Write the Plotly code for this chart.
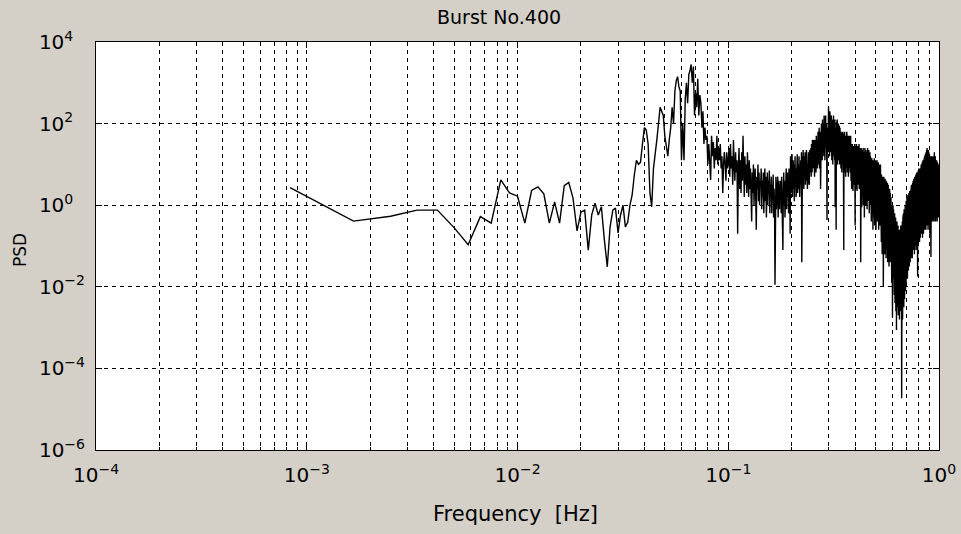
import plotly.graph_objects as go

# ---------------- data ----------------
# spectral bin width (Hz); bins k = 1..N
bin_width_hz = 1.0 / 1200.0

# PSD values, stored as log10(PSD), read bin by bin from the picture
psd_log_low = [0.43, -0.39, -0.27, -0.12, -0.12, -0.55, -0.97, -0.28, -0.44, 0.62,
               0.30, 0.22, -0.44, 0.36, 0.45, 0.28, -0.44, 0.08, -0.44, 0.48,
               0.56, 0.18, -0.63, -0.17, -0.12, -1.10, -0.24, 0.05, -0.24, -0.04,
               -0.85, -1.51, -0.53, -0.12, -0.07, -0.68, -0.24, 0.0, -0.53, -0.42,
               0.0, 0.25]
psd_log_peak = [0.74, 1.1, 1.0, 1.05, 1.5, 1.9, 1.84, 1.5, 0.3, -0.04,
                0.9, 1.2, 1.6, 2.0, 2.4, 2.3, 2.2, 1.7, 1.4, 1.2,
                1.6, 1.9, 2.4, 2.0, 2.8, 3.05, 3.15, 2.9, 2.8, 1.1,
                2.0, 1.1, 2.6, 3.0, 2.5, 3.2, 3.3, 3.45, 3.0, 3.4,
                2.2, 2.75, 2.4, 3.1, 2.2, 2.7, 2.5, 1.9, 2.3, 1.5,
                1.9, 1.6, 1.7, 1.0, 1.5, 0.8, 0.62, 1.7, 1.2, 1.55,
                0.9, 1.4, 1.1, 1.7, 1.0, 1.4, 1.1, 1.5, 0.9, 1.2,
                0.3, 1.0, 1.3, 1.0, 0.6, 1.3, 0.9, 1.1]
psd_log_mid = [1.4, 0.7, 1.5, 0.9, 1.2, 0.5, 1.6, 1.0, 0.6, 1.3, 0.8, 1.1, -0.7, 0.9, 1.4, 0.4,
               1.1, 0.3, 1.3, 0.6, 1.7, 0.9, 0.2, 1.2, 0.5, 1.0, 0.3, 1.3, 0.7, 0.2, 1.1, 0.4,
               0.9, 0.1, -0.4, 0.8, 0.3, 1.0, 0.0, 0.6, 0.9, 0.2, -0.6, 0.7, 0.4, 1.0, 0.1, 0.8, 0.0, 0.6,
               0.5, 0.9, -0.1, 0.6, 0.2, 0.8, -0.2, 0.4, 0.9, 0.1, 0.7, -0.3, 0.5, 0.8, 0.0, 0.6, 0.3, 0.85, -0.2, 0.5,
               0.3, 0.7, -0.2, 0.5, 0.1, 0.75, -0.3, 0.4, 0.0, -1.95, 0.3, 0.7, -0.1, 0.5, 0.2, 0.7, -0.3, 0.4, 0.6, -0.1, 0.5, 0.2,
               0.6, -0.2, 0.7, 0.1, 0.5, -1.1, 0.4, 0.8, 0.0, 0.6, -0.3, 0.7, 0.3, 0.9, -0.1, 0.5, 0.8, 0.2, 0.6, -0.2, 0.9, 0.4, 0.7, -0.7,
               1.2, 0.3, 0.9, 0.5, 1.25, 0.2, 0.8, 1.1, 0.4, 1.0, 0.1, 0.7, 1.2, 0.5, 0.9, 0.2, 1.1, 0.6, 1.25, 0.3, 0.8, 1.0, 0.4, 1.2, 0.6, 0.2, 1.0, 0.7,
               1.1, 0.5, 1.3, -1.4, 0.8, 1.2, 0.6, 1.35, 0.9, 0.4, 1.2, 0.7, 1.0, 1.3, 0.5, 1.1, 0.8, 1.35, 0.6, 1.0, 0.4, 1.25, 0.9, 1.3, 0.6, 1.1, 0.5, 1.35, 0.8, 1.2]
psd_log_hump = [0.9, 1.4, 0.7, 1.5, 1.1, 0.8, 1.6, 1.2, 1.4, 0.9, 1.6, 1.0, 1.5, 0.7, 1.3, 1.6, 1.0, 1.4, 0.8, 1.7,
                1.2, 1.5, 0.9, 1.6, 1.3, 1.8, 1.0, 1.5, 1.2, 1.9, 0.9, 1.6, 1.4, 1.8, 0.4,
                1.7, 1.2, 2.0, 1.5, 1.9, 1.1, 2.1, 1.6, 1.3, 2.0, 1.8, 1.2, 2.2, 1.5, 1.9, 1.1, 2.1, 1.7, 2.2, 1.4,
                1.8, 2.0, 1.2, -0.36, 1.9, 1.6, 2.2, 1.3, 2.0, 2.4, 1.5, 2.1, 1.8, 1.2, 2.3, 1.6, 2.1, 1.4,
                2.0, 1.3, 2.2, 1.7, 1.1, 2.1, 1.5, 1.9, 1.0, 2.0, 1.6, 2.2, 1.2, 1.8, 2.0, 1.4, 1.1, 2.1, -0.05, 1.7,
                1.9, 1.3, -0.6, 1.8, 2.0, 1.2, 1.6, 2.1, 1.0, 1.7, 1.9, 1.4, 2.0, 1.1, 1.8, 1.5, 1.95, 1.0, 1.6, 1.9, 1.2, 1.7,
                1.5, 0.9, 1.8, 1.2, 1.6, 0.8, 1.7, 1.3, 1.0, 1.8, 1.4, 0.7, 1.6, 1.2, -1.1, 1.7, 1.0, 1.5, 1.8, 0.8,
                1.4, 1.6, 1.1, 0.7, 1.7, 1.3, 1.5, 0.9, 1.8, 1.2, 1.6, 0.8, 1.4, 1.7, 1.0, 1.5, 0.7, 1.6, 1.3, 1.1,
                1.7, 0.9, 1.5, 1.2, 1.6, 0.8, 1.4, 1.7,
                1.2, 0.6, 1.5, 1.0, 0.4, 1.4, 1.1, 0.7, 1.5, 0.9, 1.3, 0.35, 1.2, 1.45, 0.8, 1.0, 0.5, 1.4, 1.2, 0.6,
                1.5, 0.9, -0.5, 1.3, 1.0, 0.4, 1.4, 1.1, 0.7, 1.5, 0.8, 1.2, 0.35, 1.3, 1.0, 1.45, 0.6, 1.1, 0.9, 1.4,
                0.5, 1.2, 0.8, 1.5, 0.4, 1.1, 1.3, 0.7, 1.0, 1.4, 0.5, 1.2, -1.4]
psd_log_fall = [1.0, 0.3, 1.4, 0.7, 1.1, -0.05, 1.3, 0.5, 0.9, 1.35, 0.2, 1.0, 0.6, 1.4, 0.0, 1.2, 0.8, 0.4, 1.3, 0.9,
                -0.3, 1.1, 0.6, 1.4, 0.3, 1.0, 1.2, 0.0, 0.8, 1.35, 0.5, 1.1, 0.2, 1.3, 0.7, 1.0, -0.1, 1.2, 0.6, 1.4,
                0.4, 0.9, 1.3, 0.1, 1.1, 0.7, 1.35, 0.3, 1.0, -0.2, 1.2, 0.8, 0.5, 1.3, 0.0, 1.0, 1.2, 0.4, 0.9,
                1.1, 0.2, 0.8, -0.4, 1.0, 0.5, 1.15, -0.2, 0.7, 0.9, 0.0, 1.1, 0.4, -0.6, 0.8, 1.0, 0.3, 1.1, -0.3, 0.6,
                0.9, 0.1, 1.15, 0.5, -0.5, 0.8, 1.0, 0.2, 0.7, -0.1, 1.1, 0.4, 0.9, -0.6, 0.6, 1.0, 0.3, -0.2, 0.9, 0.5,
                1.1, 0.0, 0.7, -0.4, 1.0, 0.4, 0.8, -0.1, 1.05, 0.2, 0.6, -0.6, 0.9, 0.3, 1.0, -0.3, 0.7, 0.1, 0.95, 0.4,
                -0.5, 0.8, 0.2, 1.0, -0.2, 0.6,
                0.7, -0.3, 0.4, -0.9, 0.75, 0.1, -0.6, 0.5, 0.2, -1.2, 0.6, -0.2, 0.3, -0.8, 0.7, 0.0, 0.4, -2.0, 0.5, -0.5,
                0.2, 0.7, -1.0, 0.3, -0.3, 0.6, 0.1, -1.2, 0.4, -0.6, 0.65, 0.0, -0.9, 0.3, 0.5, -0.4, 0.1, -1.3, 0.6, -0.2,
                0.2, -0.8, 0.5, 0.0, -1.1, 0.4, -0.5, 0.55, -0.1, -1.4, 0.3, 0.1, -0.7, 0.5, -0.3, -1.0, 0.2, 0.45, -0.6, -1.5,
                0.3, -0.2, 0.1, -1.2, 0.4, -0.8, 0.0, -1.4, 0.3, -0.5, 0.1, -1.0, 0.2, -1.3]
psd_log_notch = [0.2, -1.0, -0.4, -1.6, 0.1, -0.7, -1.9, -0.2, -1.1, 0.0, -1.5, -0.6, -2.75, -0.3, -1.2, -0.8, 0.0, -1.8, -0.5, -1.3,
                 -0.1, -2.0, -0.7, -1.0, -0.3, -1.6, -2.2, -0.5, -1.1, -0.2, -1.8, -0.9, -2.4, -0.4, -1.3, -0.7, -2.0, -0.3, -1.5, -2.6,
                 -0.6, -1.1, -1.9, -0.5, -3.06, -1.2, -0.8, -2.1, -0.4, -1.5, -2.5, -0.7, -1.0, -1.8, -0.6, -2.3, -1.3, -0.5, -2.0, -2.7,
                 -0.8, -1.4, -2.2, -0.6, -1.7, -2.5, -1.0, -0.7, -2.1, -2.8, -0.9, -1.5, -2.4, -0.6, -1.9, -2.6, -1.1, -0.8, -2.2, -1.6,
                 -0.5, -2.0,
                 -1.5, -0.8, -2.4, -1.2, -0.6, -2.0, -4.73, -1.0, -2.6, -0.7, -1.7, -2.2, -0.4, -1.3, -2.8, -0.9, -1.9, -0.3, -1.5, -2.4,
                 -0.6, -1.1, -2.0, -0.2, -1.6, -2.5, -0.8, -1.2, -0.1, -1.8, -1.0, -2.3, -0.5, -1.4, -2.0, -0.3, -1.1, -1.7, 0.0, -0.9,
                 -2.1, -0.6, -1.5, -0.2, -1.2, -1.9, 0.1, -0.8, -1.4, -0.4, -1.7, -0.1, -1.0, -1.6, 0.2, -0.7, -1.3, -0.3, -1.8, 0.0,
                 -1.1, -0.5, -1.5, 0.25, -0.8, -1.2, -0.2, -1.6, 0.1, -0.9, -0.4, -1.4, 0.3, -0.6, -1.1, -0.1, -1.5, 0.2, -0.8, -1.3,
                 0.35, -0.4, -1.0, 0.0, -1.4, 0.3, -0.7, -1.2, 0.1, -0.5, -1.3, 0.37]
psd_log_tail = [-0.3, 0.4, -1.0, 0.2, -0.6, 0.5, -1.2, 0.0, 0.45, -0.8, 0.3, -0.4, -1.3, 0.5, 0.1, -0.7, 0.55, -0.2, -1.0, 0.4,
                0.0, 0.6, -0.9, 0.2, -0.5, 0.6, -1.1, 0.3, 0.65, -0.3, -0.8, 0.5, 0.1, -1.2, 0.6, -0.4, 0.3, 0.7, -0.7, 0.0,
                0.5, -1.0, 0.7, 0.2, -0.5, 0.6, -0.9, 0.4, 0.75, -0.2, -1.1, 0.5, 0.0, 0.7, -0.6, 0.3, 0.8, -0.8, 0.1, 0.6,
                -0.4, -1.0, 0.8, 0.3, -0.3, 0.7, -1.75, 0.5, 0.0, 0.8, -0.7, 0.4, 0.85, -0.2, -0.9, 0.6, 0.2, -0.5, 0.9, 0.1,
                -0.8, 0.7, 0.3, -0.4, 0.85, -0.1, -0.9, 0.6, 0.4, -0.6, 0.9, 0.2, -0.3, 0.8, -0.8, 0.5, 0.9, 0.0, -0.5, 0.7,
                0.3, -0.7,
                0.9, -0.4, 0.5, 1.0, -0.7, 0.3, 0.8, -0.2, 1.0, 0.1, -0.6, 0.9, 0.4, 1.05, -0.3, 0.6, -0.8, 1.0, 0.2, 0.7,
                -0.5, 1.1, 0.3, 0.9, -0.2, 0.6, 1.1, -0.7, 0.4, 1.0, 0.0, 0.8, -0.4, 1.15, 0.5, -0.1, 1.0, 0.3, -0.6, 1.2,
                0.7, 0.1, 1.0, -0.3, 0.5, 1.2, -0.5, 0.8, 0.2, 1.25, 0.4, -0.2, 1.0, 0.6, -0.6, 1.3, 0.2, 0.9, -0.1, 1.2,
                0.5, -0.4, 1.35, 0.7, 0.0, 1.1, -0.5, 0.8, 1.4, 0.3, -0.2, 1.2, 0.6, 1.4, -0.3, 0.9, 0.1, 1.3, 0.5, -0.6,
                1.2, 0.8, 0.0, 1.35, 0.4, -0.3, 1.1, 0.7, 1.3, -0.1, 0.6, 1.2, -0.5, 0.9, 0.3, 1.25, -0.2, 0.7, 1.1, 0.1,
                -0.7, 1.2, 0.5, 0.9, -0.3, 1.15, 0.4, 0.0, 1.2, 0.6, -0.4, 1.0, 0.2, -1.27,
                0.8, -0.2, 1.1, 0.4, 1.2, -0.4, 0.6, 1.0, 0.1, 1.2, -0.3, 0.7, 0.3, 1.15, -0.1, 0.9, 0.5, 1.2, -0.4, 0.6,
                1.0, 0.2, 1.1, -0.2, 0.7, 1.2, 0.0, 0.5, 1.1, -0.3, 0.9, 0.4, 1.15, -0.1, 0.6, 1.0, 0.2, -0.4, 1.1, 0.7,
                1.3, 0.1, 0.8, -0.2, 1.1, 0.5, 1.0, -0.3, 0.6, 1.1, 0.2, 0.9, -0.1, 1.2, 0.4, 0.7, -0.4, 1.0, 0.3, 1.1,
                0.0, 0.8, 1.05, -0.2, 0.5, 1.0, 0.1, -0.3, 0.9, 0.6, 1.1, 0.0, 0.7, -0.2, 1.0, 0.4, 0.9, -0.4, 0.6, 1.05,
                0.2, 0.8, -0.1, 1.0, 0.3, 0.7, -0.3, 0.9, 0.5, 1.0, 0.0, 0.6, -0.2, 0.9, 0.4, 1.0, 0.1, 0.7, -0.3, 0.8,
                0.5]

psd_log = psd_log_low + psd_log_peak + psd_log_mid + psd_log_hump + psd_log_fall + psd_log_notch + psd_log_tail
psd = [10 ** v for v in psd_log]
freq = [(k + 1) * bin_width_hz for k in range(len(psd))]

title_text = "Burst No.400"
x_label = "Frequency&nbsp;&nbsp;[Hz]"
y_label = "PSD"

# invisible padding keeps the mantissa "10" aligned for positive exponents
PAD = "<span style='color:rgba(0,0,0,0)'>\u2212</span>"
x_major_vals = [1e-4, 1e-3, 1e-2, 1e-1, 1e0]
x_major_text = ["10<sup>\u22124</sup>", "10<sup>\u22123</sup>", "10<sup>\u22122</sup>",
                "10<sup>\u22121</sup>", "10<sup>0</sup>"]
x_minor_vals = [m * d for d in [1e-4, 1e-3, 1e-2, 1e-1] for m in range(2, 10)]
y_major_vals = [1e-6, 1e-4, 1e-2, 1e0, 1e2, 1e4]
y_major_text = ["10<sup>\u22126</sup>", "10<sup>\u22124</sup>", "10<sup>\u22122</sup>",
                "10<sup>0" + PAD + "</sup>", "10<sup>2" + PAD + "</sup>", "10<sup>4" + PAD + "</sup>"]

# ---------------- figure ----------------
FONT = "DejaVu Sans, Verdana, sans-serif"
BG = "#D4D0C8"
GRID_DASH = "4px,4px"

fig = go.Figure()
fig.add_trace(go.Scatter(x=freq, y=psd, mode="lines",
                         line=dict(color="black", width=1.4),
                         showlegend=False, hoverinfo="skip"))

axis_common = dict(
    type="log",
    showline=True, linecolor="black", linewidth=1, mirror="allticks",
    ticks="inside", ticklen=6, tickcolor="black",
    showgrid=True, gridcolor="black", gridwidth=1, griddash=GRID_DASH,
    zeroline=False, automargin=False,
    tickfont=dict(family=FONT, size=20, color="black"),
)

fig.update_xaxes(**axis_common, range=[-4, 0], tickmode="array",
                 tickvals=x_major_vals, ticktext=x_major_text,
                 ticklabelstandoff=7,
                 minor=dict(tickmode="array", tickvals=x_minor_vals, ticks="inside",
                            ticklen=3, tickcolor="black", showgrid=True,
                            gridcolor="black", gridwidth=1, griddash=GRID_DASH))
fig.update_yaxes(**axis_common, range=[-6, 4], tickmode="array",
                 tickvals=y_major_vals, ticktext=y_major_text,
                 ticklabelstandoff=6)

fig.update_layout(
    width=961, height=534, autosize=False,
    margin=dict(l=96, r=22, t=42, b=84),
    paper_bgcolor=BG, plot_bgcolor="white",
    font=dict(family=FONT, color="black"),
    annotations=[
        dict(text=title_text, xref="paper", yref="paper", x=0.478, y=1.0,
             yshift=25, xanchor="center", yanchor="middle", showarrow=False,
             font=dict(family=FONT, size=19, color="black")),
        dict(text=x_label, xref="paper", yref="paper", x=0.4976, y=0.0,
             yshift=-64, xanchor="center", yanchor="middle", showarrow=False,
             font=dict(family=FONT, size=21, color="black")),
        dict(text=y_label, xref="paper", yref="paper", x=0.0, y=0.49,
             xshift=-76, xanchor="center", yanchor="middle", showarrow=False,
             textangle=-90, font=dict(family=FONT, size=17, color="black")),
    ],
)

fig.write_html("out.html", config={"displayModeBar": False},
               post_script="document.body.style.margin='0px';document.body.style.padding='0px';document.body.style.overflow='hidden';")
